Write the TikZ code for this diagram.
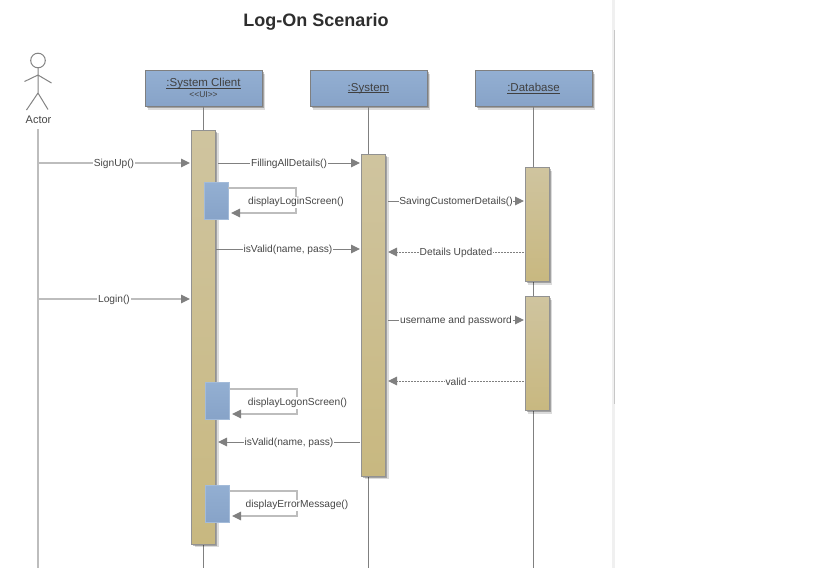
\documentclass[tikz,border=0pt]{standalone}
\usepackage{fontspec}
\setmainfont{Liberation Sans}
\usetikzlibrary{arrows.meta,shadows}
\definecolor{boxblueT}{HTML}{93AFD2}
\definecolor{boxblueB}{HTML}{87A3C8}
\definecolor{tanT}{HTML}{CFC49F}
\definecolor{tanB}{HTML}{C8B880}
\definecolor{lineg}{HTML}{808080}
\definecolor{lightl}{HTML}{BDBDBD}
\definecolor{edgeg}{HTML}{7F7F7F}
\newcommand\myul[1]{\setbox0\hbox{#1}\rlap{\rule[-1.4pt]{\wd0}{.8pt}}\box0}
\tikzset{
  x=1pt,y=-1pt,
  softshadow/.style={drop shadow={shadow xshift=3pt,shadow yshift=-3pt,fill=black,opacity=.14},drop shadow={shadow xshift=1.8pt,shadow yshift=-1.8pt,fill=black,opacity=.26}},
  lifebox/.style={draw=edgeg,line width=1pt,top color=boxblueT,bottom color=boxblueB,minimum width=117pt,minimum height=36pt,inner sep=0pt,softshadow,align=center,font=\fontsize{11.5}{12}\selectfont,text=black!75},
  actbar/.style={draw=edgeg!85,line width=1pt,top color=tanT,bottom color=tanB,softshadow},
  selfbar/.style={draw=boxblueT!85,line width=.8pt,top color=boxblueT,bottom color=boxblueB},
  lifeline/.style={draw=lineg,line width=1pt},
  msg/.style={draw=lineg,line width=1pt,-{Triangle[length=9pt,width=8.5pt,fill=lineg]}},
  lightmsg/.style={draw=lightl,line width=1.2pt,-{Triangle[length=9pt,width=8.5pt,color=lineg,fill=lineg]}},
  retmsg/.style={draw=lineg,line width=1pt,dash pattern=on 2pt off 1pt,-{Triangle[length=9pt,width=8.5pt,fill=lineg]}},
  lbl/.style={fill=white,inner xsep=.8pt,inner ysep=1pt,yshift=-1.3pt,font=\fontsize{10.2}{11}\selectfont,text=black!72},
}
\begin{document}
\begin{tikzpicture}
\useasboundingbox (0,0) rectangle (819,568);
\fill[white] (0,0) rectangle (819,568);
% page edge
\fill[black!6] (612,0) rectangle (615,568);
\coordinate (edgeA) at (614.3,30);
\coordinate (edgeB) at (614.3,404);
\draw[lightl!85,line width=.9pt] (edgeA) -- (edgeB);
% title
\node[font=\bfseries\fontsize{18}{20}\selectfont,text=black!82] (title) at (316,21.5) {Log-On Scenario};
% actor
\draw[lightl!70!black,line width=1pt,fill=white] (38,60.5) circle (7.3);
\draw[lightl!70!black,line width=1pt] (38,68) -- (38,93) (24.5,81.5) -- (38,75) -- (51.5,83) (26.5,110) -- (38,93) -- (48,109.5);
\node[font=\fontsize{11}{12}\selectfont,text=black!72] (actor) at (38.5,119.5) {Actor};
\coordinate (actorTop) at (38,129);
\coordinate (actorEnd) at (38,568);
\draw[lightl,line width=1.2pt] (actorTop) -- (actorEnd);
% lifelines
\node[lifebox] (client) at (203.5,88.5) {};
\node[lifebox] (system) at (368.5,88.5) {\raisebox{-1.2pt}{\myul{:System}}};
\node[lifebox] (db) at (533.5,88.5) {\raisebox{-1.2pt}{\myul{:Database}}};
\node[font=\fontsize{11.5}{12}\selectfont,text=black!75,inner sep=0pt] (clientname) at (203.5,84) {\myul{:System Client}};
\node[font=\fontsize{8.5}{9}\selectfont,text=black!75,inner sep=0pt] (clientst) at (203.5,95) {{<}{<}UI{>}{>}};
\coordinate (clientEnd) at (203.5,568);
\coordinate (systemEnd) at (368.5,568);
\coordinate (dbEnd) at (533.5,568);
\draw[lifeline] (client.south) -- (clientEnd);
\draw[lifeline] (system.south) -- (systemEnd);
\draw[lifeline] (db.south) -- (dbEnd);
% activations
\node[actbar,minimum width=24pt,minimum height=414pt,inner sep=0pt] (a1) at (203.5,337) {};
\node[actbar,minimum width=24pt,minimum height=322pt,inner sep=0pt] (a2) at (373.5,315) {};
\node[actbar,minimum width=24pt,minimum height=114pt,inner sep=0pt] (a3) at (537,224.5) {};
\node[actbar,minimum width=24pt,minimum height=114pt,inner sep=0pt] (a4) at (537,353.5) {};
\node[selfbar,minimum width=24pt,minimum height=37pt,inner sep=0pt] (s1) at (216,201) {};
\node[selfbar,minimum width=24pt,minimum height=37pt,inner sep=0pt] (s2) at (217.5,401) {};
\node[selfbar,minimum width=24pt,minimum height=37pt,inner sep=0pt] (s3) at (217.5,503.5) {};
% messages
\coordinate (m1s) at (38,163); \coordinate (m1e) at (190,163);
\draw[lightmsg] (m1s) -- node[lbl] (t1) {SignUp()} (m1e);
\coordinate (m2s) at (218,163); \coordinate (m2e) at (360,163);
\draw[msg] (m2s) -- node[lbl] (t2) {FillingAllDetails()} (m2e);
\coordinate (m3s) at (388,201); \coordinate (m3e) at (524,201);
\draw[msg] (m3s) -- node[lbl] (t3) {SavingCustomerDetails()} (m3e);
\coordinate (m4s) at (524,252); \coordinate (m4e) at (388,252);
\draw[retmsg] (m4s) -- node[lbl] (t4) {Details Updated} (m4e);
\coordinate (m5s) at (216,249); \coordinate (m5e) at (360,249);
\draw[msg] (m5s) -- node[lbl] (t5) {isValid(name, pass)} (m5e);
\coordinate (m6s) at (38,299); \coordinate (m6e) at (190,299);
\draw[lightmsg] (m6s) -- node[lbl] (t6) {Login()} (m6e);
\coordinate (m7s) at (388,320); \coordinate (m7e) at (524,320);
\draw[msg] (m7s) -- node[lbl] (t7) {username and password} (m7e);
\coordinate (m8s) at (524,381); \coordinate (m8e) at (388,381);
\draw[retmsg] (m8s) -- node[lbl] (t8) {valid} (m8e);
\coordinate (m9s) at (360,442); \coordinate (m9e) at (218,442);
\draw[msg] (m9s) -- node[lbl] (t9) {isValid(name, pass)} (m9e);
% self calls
\draw[lightmsg] (228,188) -| (296,213) -- (231,213);
\node[lbl] (t10) at (296,201) {displayLoginScreen()};
\draw[lightmsg] (229.5,389) -| (297,414) -- (232,414);
\node[lbl] (t11) at (297.5,401.5) {displayLogonScreen()};
\draw[lightmsg] (229.5,491) -| (297,516) -- (232,516);
\node[lbl] (t12) at (297,504) {displayErrorMessage()};
\end{tikzpicture}
\end{document}
